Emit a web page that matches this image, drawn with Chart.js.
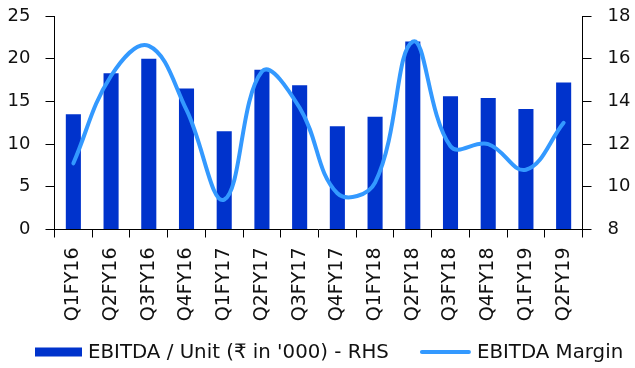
<!DOCTYPE html>
<html>
<head>
<meta charset="utf-8">
<script src="https://cdn.jsdelivr.net/npm/chart.js@4/dist/chart.umd.min.js"></script>
<style>
  html, body { margin: 0; padding: 0; background: #ffffff; }
  #wrap { width: 635px; height: 368px; position: relative; }
</style>
</head>
<body>
<div id="wrap"><canvas id="chart"></canvas></div>
<script>
// Quarterly EBITDA per unit and EBITDA margin
const quarters = ['Q1FY16','Q2FY16','Q3FY16','Q4FY16','Q1FY17','Q2FY17','Q3FY17',
                  'Q4FY17','Q1FY18','Q2FY18','Q3FY18','Q4FY18','Q1FY19','Q2FY19'];
const ebitdaPerUnit = [13.5, 18.3, 20.0, 16.5, 11.5, 18.7, 16.9, 12.1, 13.2, 22.0, 15.6, 15.4, 14.1, 17.2];
const ebitdaMargin  = [11.1, 15.2, 16.6, 13.6, 9.4, 15.4, 13.7, 9.7, 10.2, 16.8, 11.9, 12.0, 10.8, 13.0];
const leftTicks  = [0, 5, 10, 15, 20, 25];
const rightTicks = [8, 10, 12, 14, 16, 18];
const barLabel  = "EBITDA / Unit (₹ in '000) - RHS";
const lineLabel = 'EBITDA Margin';

const BAR_COLOR  = '#0033cc';
const LINE_COLOR = '#3399ff';
const TEXT_COLOR = '#111111';
const FONT = '"DejaVu Sans", Verdana, sans-serif';

// Legend row drawn under the category labels
const bottomLegend = {
  id: 'bottomLegend',
  afterDraw(chart) {
    const ctx = chart.ctx;
    const y = 352;
    ctx.save();
    ctx.font = '19.8px ' + FONT;
    ctx.textBaseline = 'middle';
    ctx.textAlign = 'left';
    let x = 35;
    // bar swatch
    ctx.fillStyle = BAR_COLOR;
    ctx.fillRect(x, y - 4.5, 47, 9);
    x += 47 + 6;
    ctx.fillStyle = TEXT_COLOR;
    ctx.fillText(barLabel, x, y + 1);
    x += ctx.measureText(barLabel).width + 31;
    // line swatch
    ctx.strokeStyle = LINE_COLOR;
    ctx.lineWidth = 4;
    ctx.lineCap = 'round';
    ctx.beginPath();
    ctx.moveTo(x + 2, y);
    ctx.lineTo(x + 49, y);
    ctx.stroke();
    x += 51 + 6;
    ctx.fillText(lineLabel, x, y + 1);
    ctx.restore();
  }
};

// fixed axis widths, no extra label padding at the ends
function fitValueAxis(width) {
  return function (scale) {
    scale.width = width;
    scale.paddingTop = 0;
    scale.paddingBottom = 0;
  };
}

new Chart(document.getElementById('chart'), {
  type: 'bar',
  data: {
    labels: quarters,
    datasets: [
      {
        type: 'line',
        label: lineLabel,
        data: ebitdaMargin,
        yAxisID: 'yRight',
        borderColor: LINE_COLOR,
        borderWidth: 4,
        pointRadius: 0,
        tension: 0.4,
        fill: false,
        borderCapStyle: 'round'
      },
      {
        type: 'bar',
        label: barLabel,
        data: ebitdaPerUnit,
        yAxisID: 'yLeft',
        backgroundColor: BAR_COLOR,
        borderWidth: 0,
        categoryPercentage: 1.0,
        barPercentage: 0.4
      }
    ]
  },
  options: {
    responsive: true,
    maintainAspectRatio: false,
    animation: false,
    layout: { padding: { top: 16, left: 0, right: 0, bottom: 0 } },
    plugins: {
      legend: { display: false },
      tooltip: { enabled: false }
    },
    scales: {
      x: {
        offset: true,
        grid: {
          offset: true,
          drawOnChartArea: false,
          drawTicks: true,
          tickLength: 8,
          color: '#000000'
        },
        border: { display: true, color: '#000000', width: 1 },
        ticks: {
          minRotation: 90,
          maxRotation: 90,
          autoSkip: false,
          padding: 10,
          color: TEXT_COLOR,
          font: { family: FONT, size: 19 }
        },
        afterFit(scale) {
          scale.height = 138.5;
          scale.paddingLeft = 0;
          scale.paddingRight = 0;
        }
      },
      yLeft: {
        position: 'left',
        min: leftTicks[0],
        max: leftTicks[leftTicks.length - 1],
        afterBuildTicks(scale) { scale.ticks = leftTicks.map(v => ({ value: v })); },
        grid: {
          drawOnChartArea: false,
          drawTicks: true,
          tickLength: 9,
          color: '#000000'
        },
        border: { display: true, color: '#000000', width: 1 },
        ticks: {
          padding: 15,
          color: TEXT_COLOR,
          font: { family: FONT, size: 18 }
        },
        afterFit: fitValueAxis(54.5)
      },
      yRight: {
        position: 'right',
        min: rightTicks[0],
        max: rightTicks[rightTicks.length - 1],
        afterBuildTicks(scale) { scale.ticks = rightTicks.map(v => ({ value: v })); },
        grid: {
          drawOnChartArea: false,
          drawTicks: true,
          tickLength: 9,
          color: '#000000'
        },
        border: { display: true, color: '#000000', width: 1 },
        ticks: {
          padding: 16,
          color: TEXT_COLOR,
          font: { family: FONT, size: 18 }
        },
        afterFit: fitValueAxis(52.5)
      }
    }
  },
  plugins: [bottomLegend]
});
</script>
</body>
</html>
